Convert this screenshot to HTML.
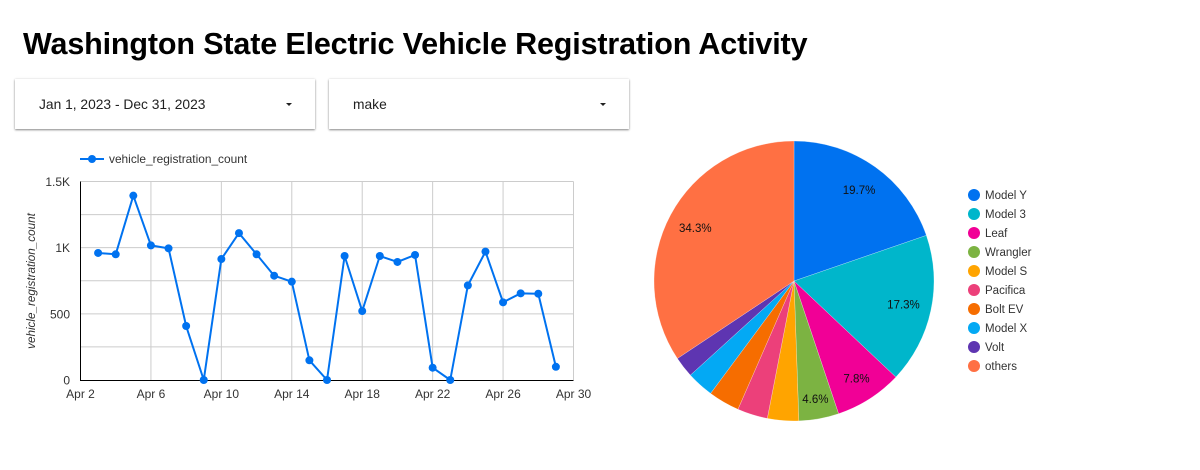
<!DOCTYPE html>
<html lang="en">
<head>
<meta charset="utf-8">
<title>Washington State Electric Vehicle Registration Activity</title>
<style>
html,body{margin:0;padding:0;background:#fff;width:1200px;height:470px;overflow:hidden;font-family:"Liberation Sans",sans-serif;}
#stage{position:relative;width:1200px;height:470px;}
#title{position:absolute;left:23px;top:23px;margin:0;font-size:30.5px;line-height:42px;font-weight:700;color:#000;white-space:nowrap;letter-spacing:-.15px;}
.dd{position:absolute;top:79px;height:50px;background:#fff;box-shadow:0 1px 2px rgba(0,0,0,.45),0 0 3px rgba(0,0,0,.08);font-size:13.8px;color:#212121;line-height:50px;cursor:pointer;}
.dd span{position:absolute;left:24px;top:1px;white-space:nowrap;}
.dd i{position:absolute;top:23.5px;width:0;height:0;border-left:3.5px solid transparent;border-right:3.5px solid transparent;border-top:3.5px solid #212121;}
svg{position:absolute;left:0;top:0;}
svg text{font-family:"Liberation Sans",sans-serif;}
</style>
</head>
<body>
<div id="stage">
  <h1 id="title">Washington State Electric Vehicle Registration Activity</h1>
  <div class="dd" style="left:15px;width:300px"><span>Jan 1, 2023 - Dec 31, 2023</span><i style="left:270.5px"></i></div>
  <div class="dd" style="left:329px;width:300px"><span>make</span><i style="left:270.5px"></i></div>
  <svg id="chart" width="1200" height="470" viewBox="0 0 1200 470"></svg>
</div>
<script>
const seriesName = 'vehicle_registration_count';
const days = [3,4,5,6,7,8,9,10,11,12,13,14,15,16,17,18,19,20,21,22,23,24,25,26,27,28,29];
const counts = [960,950,1393,1017,995,408,0,914,1110,950,788,743,149,0,937,521,937,892,945,93,0,715,970,587,655,652,100];
const xTickDays = [2,6,10,14,18,22,26,30];
const yGridValues = [0,250,500,750,1000,1250,1500];
const yTickValues = [0,500,1000,1500];
const yTickLabels = ['0','500','1K','1.5K'];
const makes = ['Model Y','Model 3','Leaf','Wrangler','Model S','Pacifica','Bolt EV','Model X','Volt','others'];
const shares = [19.7,17.3,7.8,4.6,3.6,3.5,3.6,3.1,2.4,34.3];
const sliceColors = ['#0072f0','#00b6cb','#f10096','#7cb342','#ffa400','#ec407a','#f66d00','#03a9f4','#5e35b1','#ff7043'];

const NS = 'http://www.w3.org/2000/svg';
const svg = document.getElementById('chart');
function mk(tag, attrs, text) {
  const el = document.createElementNS(NS, tag);
  for (const k in attrs) el.setAttribute(k, attrs[k]);
  if (text !== undefined) el.textContent = text;
  svg.appendChild(el);
  return el;
}
const xScale = d => 80.5 + (d - 2) * (573.5 - 80.5) / 28;
const yScale = v => 380 - v * (380 - 181.5) / 1500;

yGridValues.forEach(v => {
  if (v === 0) return;
  const el = mk('line', {x1:80.5, x2:573.5, y1:yScale(v), y2:yScale(v), stroke:'#ccc', 'stroke-width':1});
  
  
});
xTickDays.forEach(d => {
  if (d === 2) return;
  const el = mk('line', {x1:xScale(d), x2:xScale(d), y1:181.5, y2:380, stroke:'#ccc', 'stroke-width':1});
  
  
});
const yAxis = mk('line', {x1:80.5, x2:80.5, y1:181.5, y2:380.5, stroke:'#000', 'stroke-width':1});


const xAxis = mk('line', {x1:80, x2:573.5, y1:380.5, y2:380.5, stroke:'#000', 'stroke-width':1});



yTickValues.forEach((v, i) => {
  const el = mk('text', {x:70, y:yScale(v) + 4.5, 'text-anchor':'end', 'font-size':12, fill:'#333'}, yTickLabels[i]);
  
  
});
xTickDays.forEach(d => {
  const el = mk('text', {x:xScale(d), y:398, 'text-anchor':'middle', 'font-size':12, fill:'#333'}, 'Apr ' + d);
  
  
});
const yTitle = mk('text', {transform:'translate(35,281) rotate(-90)', 'text-anchor':'middle', 'font-size':11.7, 'font-style':'italic', fill:'#333'}, seriesName);



const line = mk('polyline', {points:days.map((d, i) => xScale(d) + ',' + yScale(counts[i])).join(' '), fill:'none', stroke:'#0072f0', 'stroke-width':2, 'stroke-linejoin':'round'});


days.forEach((d, i) => {
  const el = mk('circle', {cx:xScale(d), cy:yScale(counts[i]), r:4, fill:'#0072f0'});
  
  
});

const legLine = mk('line', {x1:80, x2:104, y1:159, y2:159, stroke:'#0072f0', 'stroke-width':2});


const legDot = mk('circle', {cx:92, cy:159, r:4, fill:'#0072f0'});


const legText = mk('text', {x:109, y:163, 'font-size':11.9, fill:'#333'}, seriesName);



const cx = 794, cy = 281, R = 140;
const total = shares.reduce((a, b) => a + b, 0);
let acc = 0;
const pt = (frac, r) => [cx + r * Math.sin(frac * 2 * Math.PI), cy - r * Math.cos(frac * 2 * Math.PI)];
shares.forEach((s, i) => {
  const a0 = acc / total, a1 = (acc + s) / total;
  acc += s;
  const p0 = pt(a0, R), p1 = pt(a1, R);
  const large = (a1 - a0) > 0.5 ? 1 : 0;
  const slice = mk('path', {d:`M${cx},${cy}L${p0[0]},${p0[1]}A${R},${R} 0 ${large} 1 ${p1[0]},${p1[1]}Z`, fill:sliceColors[i], stroke:'#fff', 'stroke-width':0.25});
  
  
});
acc = 0;
shares.forEach(s => {
  const mid = (acc + s / 2) / total;
  acc += s;
  if (s < 4) return;
  const p = pt(mid, s < 5 ? 120 : s < 10 ? 116 : 112);
  const el = mk('text', {x:p[0], y:p[1] + 4, 'text-anchor':'middle', 'font-size':11.5, fill:'#111'}, s.toFixed(1) + '%');
  
  
});
makes.forEach((m, i) => {
  const y = 195 + i * 19;
  const dot = mk('circle', {cx:974, cy:y, r:6, fill:sliceColors[i]});
  
  
  const t = mk('text', {x:985, y:y + 4, 'font-size':11.5, fill:'#333'}, m);
  
  
});
</script>
</body>
</html>
